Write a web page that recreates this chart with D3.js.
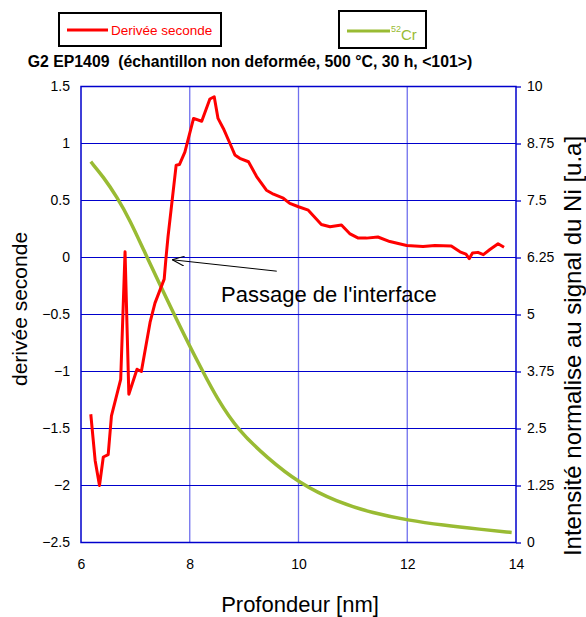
<!DOCTYPE html>
<html>
<head>
<meta charset="utf-8">
<script src="https://cdn.jsdelivr.net/npm/d3@7"></script>
<style>
  body { margin: 0; background: #fff; }
  svg { font-family: "Liberation Sans", Arial, sans-serif; }
</style>
</head>
<body>
<svg id="chart" width="586" height="617"></svg>
<script>
// profondeur (nm) / derivee seconde
const redDepth = [6.18, 6.26, 6.34, 6.41, 6.50, 6.56, 6.73, 6.81, 6.88, 7.03, 7.11, 7.27, 7.36, 7.53, 7.56, 7.60,
  7.75, 7.81, 7.91, 8.07, 8.22, 8.37, 8.45, 8.52, 8.62, 8.74, 8.83, 8.92, 9.08, 9.23, 9.41, 9.54, 9.72, 9.84,
  10.0, 10.18, 10.42, 10.58, 10.79, 10.94, 11.1, 11.25, 11.46, 11.68, 11.99, 12.29, 12.51, 12.81, 12.97, 13.08,
  13.14, 13.2, 13.3, 13.4, 13.52, 13.67, 13.78];
const redValue = [-1.375, -1.78, -2.0, -1.75, -1.73, -1.39, -1.07, 0.05, -1.2, -0.98, -1.0, -0.57, -0.40, -0.19, -0.02, 0.18,
  0.81, 0.815, 0.925, 1.22, 1.195, 1.39, 1.41, 1.22, 1.13, 1.0, 0.90, 0.87, 0.84, 0.71, 0.59, 0.555, 0.52, 0.475,
  0.445, 0.415, 0.29, 0.27, 0.285, 0.21, 0.17, 0.17, 0.18, 0.14, 0.105, 0.096, 0.105, 0.10, 0.05, 0.03,
  -0.01, 0.04, 0.045, 0.025, 0.07, 0.12, 0.09];

// 52Cr, intensite normalisee
const crDepth = [6.18, 6.41, 6.66, 6.90, 7.15, 7.45, 7.64, 8.0, 8.22, 8.50, 8.89, 9.42, 10.01, 10.70, 11.38, 12.01, 12.66, 13.34, 13.92];
const crValue = [8.35, 8.02, 7.58, 7.07, 6.42, 5.66, 5.18, 4.30, 3.80, 3.16, 2.46, 1.86, 1.30, 0.89, 0.64, 0.49, 0.38, 0.29, 0.22];

const xTicks = [6, 8, 10, 12, 14];
const leftTicks = [-2.5, -2, -1.5, -1, -0.5, 0, 0.5, 1, 1.5];
const rightTicks = [0, 1.25, 2.5, 3.75, 5, 6.25, 7.5, 8.75, 10];

// fleche "Passage de l'interface" : pointe puis queue
const arrowHead = [7.68, -0.02];
const arrowTail = [9.6, -0.12];

const svg = d3.select("#chart");
const plotLeft = 81, plotRight = 516, plotTop = 86.5, plotBottom = 542.5;

const x = d3.scaleLinear().domain([6, 14]).range([plotLeft, plotRight]);
const yL = d3.scaleLinear().domain([-2.5, 1.5]).range([plotBottom, plotTop]);
const yR = d3.scaleLinear().domain([0, 10]).range([plotBottom, plotTop]);

// grille
svg.append("g").selectAll("line")
  .data(xTicks.slice(1, -1))
  .join("line")
  .attr("x1", d => x(d)).attr("x2", d => x(d))
  .attr("y1", plotTop).attr("y2", plotBottom)
  .attr("stroke", "#7070ee").attr("stroke-width", 1.3);

svg.append("g").selectAll("line")
  .data(leftTicks.slice(1, -1))
  .join("line")
  .attr("x1", plotLeft).attr("x2", plotRight)
  .attr("y1", d => yL(d)).attr("y2", d => yL(d))
  .attr("stroke", "#0000cc").attr("stroke-width", 1.2);

svg.append("rect")
  .attr("x", plotLeft).attr("y", plotTop)
  .attr("width", plotRight - plotLeft).attr("height", plotBottom - plotTop)
  .attr("fill", "none").attr("stroke", "#0000cc").attr("stroke-width", 1.5);

// axes
const axLeft = d3.axisLeft(yL).tickValues(leftTicks).tickSize(0).tickPadding(11).tickFormat(d3.format(""));
const gL = svg.append("g").attr("transform", `translate(${plotLeft},0)`).call(axLeft);
const axRight = d3.axisRight(yR).tickValues(rightTicks).tickSize(5).tickPadding(6).tickFormat(d3.format(""));
const gR = svg.append("g").attr("transform", `translate(${plotRight},0)`).call(axRight);
const axBottom = d3.axisBottom(x).tickValues(xTicks).tickSize(0).tickPadding(17);
const gB = svg.append("g").attr("transform", `translate(0,${plotBottom})`).call(axBottom);

[gL, gR, gB].forEach(g => {
  g.select(".domain").remove();
  g.selectAll("text").attr("font-size", 14).attr("fill", "#000")
    .attr("font-family", "Liberation Sans, Arial, sans-serif");
});
gR.selectAll(".tick line").attr("stroke", "#0000cc").attr("stroke-width", 1.3);

// courbes
const crLine = d3.line().curve(d3.curveBasis).x(d => x(d[0])).y(d => yR(d[1]));
svg.append("path")
  .datum(d3.zip(crDepth, crValue))
  .attr("d", crLine)
  .attr("fill", "none").attr("stroke", "#99bb33").attr("stroke-width", 3.5);

const redLine = d3.line().x(d => x(d[0])).y(d => yL(d[1]));
svg.append("path")
  .datum(d3.zip(redDepth, redValue))
  .attr("d", redLine)
  .attr("fill", "none").attr("stroke", "#ff0000").attr("stroke-width", 3)
  .attr("stroke-linejoin", "round");

// annotation
svg.append("defs").append("marker")
  .attr("id", "arrow").attr("viewBox", "0 0 12 10")
  .attr("refX", 0).attr("refY", 5)
  .attr("markerWidth", 12).attr("markerHeight", 10)
  .attr("markerUnits", "userSpaceOnUse")
  .attr("orient", "auto")
  .append("path").attr("d", "M12,0 L0,5 L12,10")
  .attr("fill", "none").attr("stroke", "#000").attr("stroke-width", 1);

svg.append("line")
  .attr("x1", x(arrowHead[0])).attr("y1", yL(arrowHead[1]))
  .attr("x2", x(arrowTail[0])).attr("y2", yL(arrowTail[1]))
  .attr("stroke", "#000").attr("stroke-width", 1)
  .attr("marker-start", "url(#arrow)");

svg.append("text")
  .attr("x", 221).attr("y", 302)
  .attr("font-size", 22)
  .text("Passage de l'interface");

// titres
svg.append("text")
  .attr("x", 250).attr("y", 67)
  .attr("text-anchor", "middle")
  .attr("font-size", 15.8).attr("font-weight", "bold")
  .style("white-space", "pre")
  .text("G2 EP1409  (échantillon non deformée, 500 °C, 30 h, <101>)");

svg.append("text")
  .attr("x", 300).attr("y", 612)
  .attr("text-anchor", "middle").attr("font-size", 22)
  .text("Profondeur [nm]");

svg.append("text")
  .attr("transform", "translate(27,309) rotate(-90)")
  .attr("text-anchor", "middle").attr("font-size", 21)
  .text("derivée seconde");

svg.append("text")
  .attr("transform", "translate(581,346) rotate(-90)")
  .attr("text-anchor", "middle").attr("font-size", 24)
  .text("Intensité normalise au signal du Ni [u.a]");

// legendes
const leg1 = svg.append("g");
leg1.append("rect").attr("x", 59).attr("y", 13).attr("width", 162).attr("height", 33)
  .attr("fill", "#fff").attr("stroke", "#000").attr("stroke-width", 2);
leg1.append("line").attr("x1", 67).attr("x2", 108).attr("y1", 30).attr("y2", 30)
  .attr("stroke", "#ff0000").attr("stroke-width", 3);
leg1.append("text").attr("x", 111).attr("y", 35).attr("font-size", 13.5).attr("fill", "#ff0000")
  .text("Derivée seconde");

const leg2 = svg.append("g");
leg2.append("rect").attr("x", 339).attr("y", 11).attr("width", 87).attr("height", 37)
  .attr("fill", "#fff").attr("stroke", "#000").attr("stroke-width", 2);
leg2.append("line").attr("x1", 347).attr("x2", 390).attr("y1", 31).attr("y2", 31)
  .attr("stroke", "#99bb33").attr("stroke-width", 3);
const t2 = leg2.append("text").attr("x", 391).attr("y", 40).attr("fill", "#99bb33");
t2.append("tspan").attr("font-size", 9).attr("dy", -8).text("52");
t2.append("tspan").attr("font-size", 15).attr("dy", 8).text("Cr");
</script>
</body>
</html>
